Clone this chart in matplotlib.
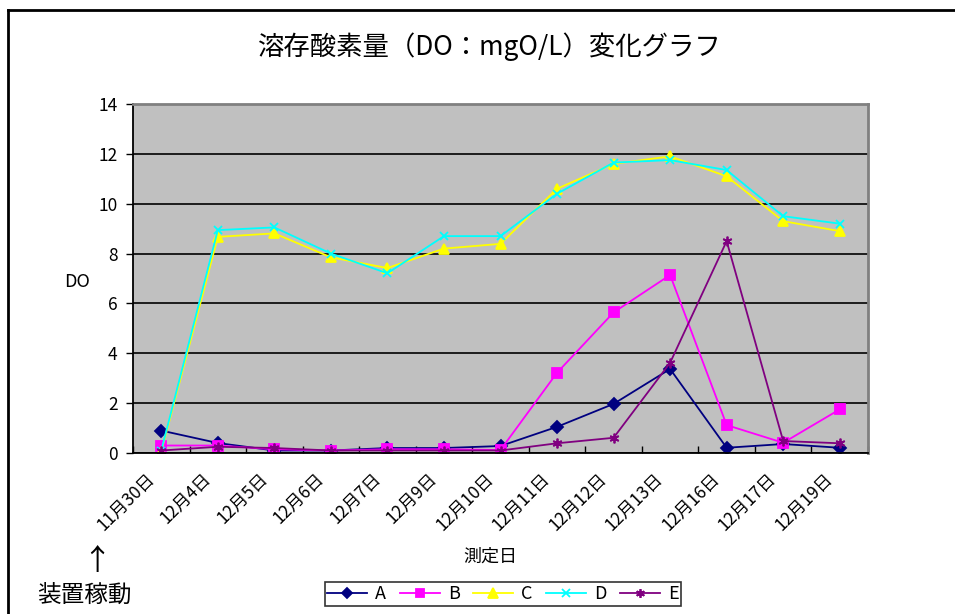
import matplotlib
matplotlib.use("Agg")
import matplotlib.pyplot as plt
from matplotlib.lines import Line2D
from matplotlib.transforms import ScaledTranslation
import numpy as np

plt.rcParams['font.family'] = ['Noto Sans CJK JP', 'DejaVu Sans']

dates = ["11月30日", "12月4日", "12月5日", "12月6日", "12月7日", "12月9日", "12月10日",
         "12月11日", "12月12日", "12月13日", "12月16日", "12月17日", "12月19日"]
series_names = ["A", "B", "C", "D", "E"]
A = [0.9, 0.4, 0.1, 0.1, 0.2, 0.2, 0.28, 1.05, 1.97, 3.37, 0.21, 0.36, 0.21]
B = [0.3, 0.3, 0.15, 0.1, 0.15, 0.15, 0.12, 3.22, 5.64, 7.14, 1.12, 0.41, 1.75]
C = [0.05, 8.67, 8.81, 7.85, 7.42, 8.2, 8.39, 10.6, 11.6, 11.9, 11.1, 9.3, 8.9]
D = [0.1, 8.94, 9.05, 8.0, 7.21, 8.7, 8.7, 10.4, 11.65, 11.75, 11.35, 9.5, 9.2]
E = [0.1, 0.25, 0.2, 0.1, 0.1, 0.1, 0.1, 0.39, 0.61, 3.62, 8.5, 0.48, 0.39]
yticks = [0, 2, 4, 6, 8, 10, 12, 14]

W, H = 955, 614
fig = plt.figure(figsize=(W / 100, H / 100), dpi=100)
fig.patch.set_facecolor("white")

L, R, T, Bm = 133, 868, 104, 453
ax = fig.add_axes([L / W, 1 - Bm / H, (R - L) / W, (Bm - T) / H])
ax.set_facecolor("#C0C0C0")

x = np.arange(len(dates))
styles = [
    (A, "#000080", "D", 6, "#000080"),
    (B, "#FF00FF", "s", 7, "#FF00FF"),
    (C, "#FFFF00", "^", 7.5, "#FFFF00"),
    (D, "#00FFFF", "x", 6, "#00FFFF"),
    (E, "#800080", (6, 2, 0), 7, "#800080"),
]
for (vals, col, mk, ms, mc), name in zip(styles, series_names):
    ax.plot(x, vals, color=col, lw=1.3, marker=mk, markersize=ms,
            markerfacecolor=mc, markeredgecolor=mc, markeredgewidth=1.3, label=name)

ax.set_xlim(-0.5, len(dates) - 0.5)
ax.set_ylim(0, 14)
ax.set_yticks(yticks)
ax.set_yticklabels([str(v) for v in yticks], fontsize=12.5)
ax.yaxis.grid(True, color="black", lw=1.2)
ax.set_axisbelow(True)
ax.tick_params(axis="y", direction="out", length=5, width=1, color="black", pad=6)

ax.set_xticks(x)
ax.set_xticklabels(dates, rotation=45, ha="right", va="top", rotation_mode="anchor", fontsize=12.5)
ax.tick_params(axis="x", length=0, pad=12)
shift = ScaledTranslation(-16 / 100, 0, fig.dpi_scale_trans)
for lab in ax.get_xticklabels():
    lab.set_transform(lab.get_transform() + shift)
ax.set_xticks(np.arange(-0.5, len(dates)), minor=True)
ax.tick_params(axis="x", which="minor", direction="in", length=5, width=1, color="black")

for s in ["left", "bottom"]:
    ax.spines[s].set_color("black")
    ax.spines[s].set_linewidth(1.3)
for s in ["top", "right"]:
    ax.spines[s].set_color("#808080")
    ax.spines[s].set_linewidth(2)

# Y label
fig.text(77 / W, 1 - 282 / H, "DO", fontsize=13, ha="center", va="center")
# X label
fig.text(490 / W, 1 - 557 / H, "測定日", fontsize=13, ha="center", va="center")
# Title
fig.text(489 / W, 1 - 47 / H, "溶存酸素量（DO：mgO/L）変化グラフ", fontsize=19, ha="center", va="center")
# Annotations
fig.text(97 / W, 1 - 562 / H, "↑", fontsize=21, ha="center", va="center")
fig.text(84 / W, 1 - 595 / H, "装置稼動", fontsize=17, ha="center", va="center")

# Legend
leg = fig.legend(loc="center", bbox_to_anchor=(503 / W, 1 - 594 / H), ncol=5,
                 frameon=True, fancybox=False, edgecolor="black", fontsize=13,
                 handlelength=2.2, columnspacing=0.75, handletextpad=0.45,
                 borderpad=0.15, markerscale=0.9)
leg.get_frame().set_linewidth(1.2)

# Outer border (left and top only visible)
fig.add_artist(Line2D([8 / W, 8 / W], [0, 1 - 10 / H], color="black", lw=2, transform=fig.transFigure))
fig.add_artist(Line2D([8 / W, 1], [1 - 10 / H, 1 - 10 / H], color="black", lw=2, transform=fig.transFigure))

fig.savefig("out.png", dpi=100)
